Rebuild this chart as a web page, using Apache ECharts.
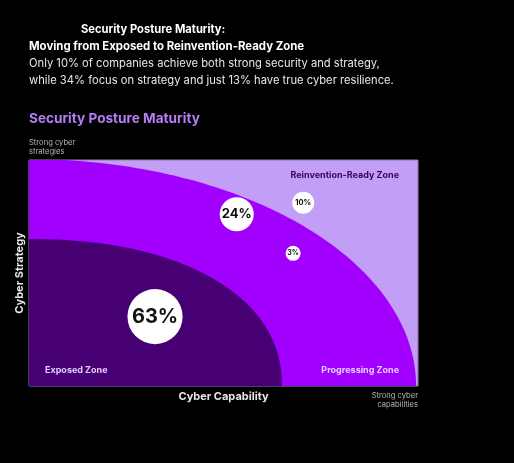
<!DOCTYPE html>
<html>
<head>
<meta charset="utf-8">
<script src="https://cdn.jsdelivr.net/npm/echarts@6/dist/echarts.min.js"></script>
<style>
html,body{margin:0;padding:0;background:#000;}
#c{width:514px;height:463px;}
</style>
</head>
<body>
<div id="c"></div>
<script>
// ---- data ----
var zoneNames = ['Exposed Zone', 'Progressing Zone', 'Reinvention-Ready Zone'];
// zone boundaries on the 0-100 capability / strategy scales [x-extent, y-extent]
var zoneBounds = [[65, 65], [99.5, 100.4]];
var bubbleLabels = ['63%', '24%', '10%', '3%'];
var bubbleShare = [63, 24, 10, 3];
var bubbleCapability = [32.4, 53.4, 70.5, 67.9];
var bubbleStrategy = [30.7, 76.0, 81.1, 58.7];

var FONT = 'Inter, Roboto, "Noto Sans", sans-serif';
var LAVENDER = '#c29ef6';
var PURPLE = '#a100ff';
var DARK = '#460073';

var chart = echarts.init(document.getElementById('c'), null, {renderer: 'canvas'});

function zoneItem(params, api) {
  var i = params.dataIndex;
  var a = api.value(0), b = api.value(1), p = api.value(2);
  var pts = [api.coord([0, 0])];
  var n = 90;
  for (var k = 0; k <= n; k++) {
    var t = (Math.PI / 2) * k / n;
    var c = Math.pow(Math.cos(t), 2 / p);
    var s = Math.pow(Math.sin(t), 2 / p);
    pts.push(api.coord([a * c, b * s]));
  }
  return {
    type: 'polygon',
    shape: {points: pts},
    style: {fill: i === 0 ? PURPLE : DARK}
  };
}

var labelSizes = {63: 20, 24: 13, 10: 7.5, 3: 7};
var bubbleData = bubbleShare.map(function (v, i) {
  return {value: [bubbleCapability[i], bubbleStrategy[i], v], name: bubbleLabels[i],
    label: {fontSize: labelSizes[v] || 10}};
});

var option = {
  backgroundColor: '#000',
  animation: false,
  grid: {left: 29, top: 160, width: 389, height: 226, show: true,
    backgroundColor: LAVENDER, borderColor: '#8e7aa8', borderWidth: 1},
  xAxis: {type: 'value', min: 0, max: 100, interval: 50,
    axisLabel: {show: false}, axisTick: {show: false}, splitLine: {show: false},
    axisLine: {show: false},
    name: 'Cyber Capability', nameLocation: 'middle', nameGap: 5,
    nameTextStyle: {color: '#e6e6e6', fontFamily: FONT, fontWeight: 'bold', fontSize: 11}},
  yAxis: {type: 'value', min: 0, max: 100, interval: 50,
    axisLabel: {show: false}, axisTick: {show: false}, splitLine: {show: false},
    axisLine: {show: false},
    name: 'Cyber Strategy', nameLocation: 'middle', nameGap: 4,
    nameTextStyle: {color: '#e6e6e6', fontFamily: FONT, fontWeight: 'bold', fontSize: 11}},
  series: [
    {
      type: 'custom',
      clip: true,
      renderItem: zoneItem,
      data: [
        [zoneBounds[1][0], zoneBounds[1][1], 2],
        [zoneBounds[0][0], zoneBounds[0][1], 2.2]
      ],
      z: 1
    },
    {
      type: 'scatter',
      data: bubbleData,
      symbol: 'circle',
      symbolSize: function (val) { return Math.max(15, 6.95 * Math.sqrt(val[2])); },
      itemStyle: {color: '#ffffff', opacity: 1},
      label: {
        show: true, position: 'inside',
        formatter: function (p) { return p.name; },
        color: '#111',
        fontFamily: FONT, fontWeight: 'bold',
        fontSize: 10
      },
      z: 5
    }
  ],
  graphic: [
    {type: 'text', left: 81, top: 24, style: {text: 'Security Posture Maturity:', fill: '#ffffff', font: 'bold 11.2px ' + FONT}},
    {type: 'text', left: 29, top: 41, style: {text: 'Moving from Exposed to Reinvention-Ready Zone', fill: '#ffffff', font: 'bold 11.4px ' + FONT}},
    {type: 'text', left: 29, top: 58, style: {text: 'Only 10% of companies achieve both strong security and strategy,', fill: '#e8e8e8', font: '11.2px ' + FONT}},
    {type: 'text', left: 29, top: 75, style: {text: 'while 34% focus on strategy and just 13% have true cyber resilience.', fill: '#e8e8e8', font: '11.2px ' + FONT}},
    {type: 'text', left: 29, top: 112, style: {text: 'Security Posture Maturity', fill: '#b57cf5', font: 'bold 13.6px ' + FONT}},
    {type: 'text', left: 29, top: 138, style: {text: 'Strong cyber\nstrategies', fill: '#b5b5b5', font: '7.6px ' + FONT, lineHeight: 9}},
    {type: 'text', x: 418, y: 391, style: {text: 'Strong cyber\ncapabilities', fill: '#b5b5b5', font: '7.6px ' + FONT, lineHeight: 9, align: 'right', verticalAlign: 'top'}},
    {type: 'text', left: 45, top: 366, z: 10, style: {text: zoneNames[0], fill: '#e2caff', font: 'bold 9px ' + FONT}},
    {type: 'text', right: 115, top: 366, z: 10, style: {text: zoneNames[1], fill: '#e6cfff', font: 'bold 9px ' + FONT}},
    {type: 'text', right: 115, top: 171, z: 10, style: {text: zoneNames[2], fill: '#3a0062', font: 'bold 9px ' + FONT}}
  ]
};

chart.setOption(option);
</script>
</body>
</html>
